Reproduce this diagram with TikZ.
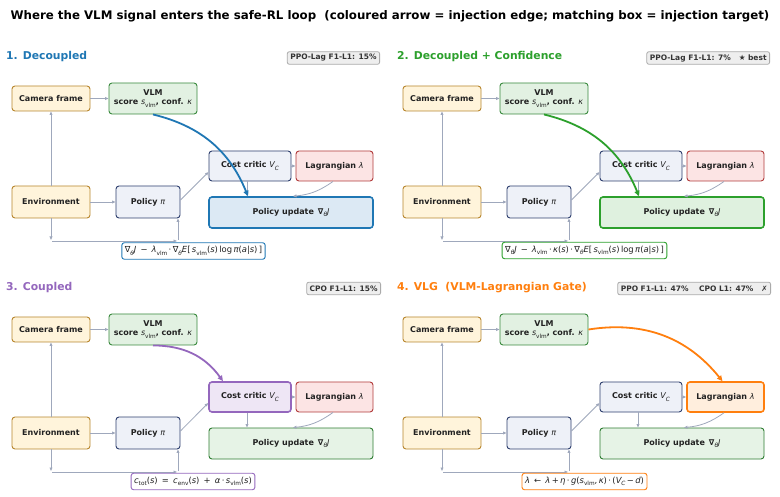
\documentclass[tikz,border=0pt]{standalone}
\usepackage{fontspec}
\setmainfont{DejaVu Sans}
\usetikzlibrary{arrows.meta,calc}
\definecolor{txt}{HTML}{222222}
\definecolor{camF}{HTML}{FFF4DB}
\definecolor{camD}{HTML}{B8862E}
\definecolor{vlmF}{HTML}{E2F1E2}
\definecolor{vlmD}{HTML}{3A8A3E}
\definecolor{polF}{HTML}{EEF1F8}
\definecolor{polD}{HTML}{2E3F6E}
\definecolor{lagF}{HTML}{FCE4E4}
\definecolor{lagD}{HTML}{B23B3B}
\definecolor{updF}{HTML}{E6F3E6}
\definecolor{updD}{HTML}{2E7D32}
\definecolor{connC}{HTML}{9FA8BC}
\definecolor{badgeF}{HTML}{EEEEEE}
\definecolor{badgeD}{HTML}{AAAAAA}
\definecolor{badgeT}{HTML}{333333}
\definecolor{cBlue}{HTML}{1F77B4}
\definecolor{cGreen}{HTML}{2CA02C}
\definecolor{cPurple}{HTML}{9467BD}
\definecolor{cOrange}{HTML}{FF7F0E}
\definecolor{hlBlueF}{HTML}{DCE9F4}
\definecolor{hlGreenF}{HTML}{DFF1DF}
\definecolor{hlPurpleF}{HTML}{EEE6F5}
\definecolor{hlOrangeF}{HTML}{FFEEDD}
\newcommand\mv[1]{{\mdseries\itshape #1}}
\newcommand\lsub[1]{\raisebox{-0.3em}{\fontsize{5.8}{6}\selectfont\mdseries\upshape #1}}
\tikzset{
 base/.style={draw, rounded corners=3pt, line width=0.9pt, align=center, inner sep=0pt, text=txt, font=\fontsize{8}{9.5}\selectfont\bfseries},
 camst/.style={base, fill=camF, draw=camD, minimum width=78pt, minimum height=25pt},
 envst/.style={camst, minimum height=32pt},
 vlmst/.style={base, fill=vlmF, draw=vlmD, minimum width=88pt, minimum height=31pt},
 polst/.style={base, fill=polF, draw=polD, minimum width=64pt, minimum height=32pt},
 ccst/.style={base, fill=polF, draw=polD, minimum width=82pt, minimum height=30pt},
 lagst/.style={base, fill=lagF, draw=lagD, minimum width=77pt, minimum height=30pt},
 updst/.style={base, fill=updF, draw=updD, minimum width=164pt, minimum height=31pt},
 conn/.style={draw=connC, line width=0.8pt, -{Triangle[length=3.5pt,width=2.8pt]}},
 inj/.style={line width=1.8pt, -{Triangle[length=5.5pt,width=5pt]}},
 badge/.style={draw=badgeD, fill=badgeF, rounded corners=2pt, line width=0.8pt, text=badgeT, font=\fontsize{7.5}{9}\selectfont\bfseries, inner xsep=3pt, inner ysep=0pt, minimum height=12.5pt, anchor=east},
 ptitle/.style={anchor=west, font=\fontsize{10.8}{13}\selectfont\bfseries, inner sep=0pt},
 formula/.style={draw, fill=white, rounded corners=2.5pt, line width=0.9pt, text=txt, font=\fontsize{8.4}{9.5}\selectfont, inner xsep=3pt, inner ysep=0pt, minimum height=16.5pt},
}
\newcommand\panel[6]{%
\begin{scope}[shift={(#2,#3)}]
\node[camst] (#1cam) at (51,98.5) {Camera frame};
\node[vlmst] (#1vlm) at (153,98.5) {VLM\\score \mv{s}\lsub{vlm}, conf. \mv{κ}};
\node[envst] (#1env) at (51,202) {Environment};
\node[polst] (#1pol) at (148,202) {Policy \mv{π}};
\node[ccst,#4] (#1cc) at (250,166) {Cost critic \mv{V}\lsub{\mv{C}}};
\node[lagst,#5] (#1lag) at (334.5,166) {Lagrangian \mv{λ}};
\node[updst,#6] (#1upd) at (291,212.5) {Policy update\enspace ∇\lsub{\mv{θ}}\mv{J}};
\coordinate (#1a) at (51,240);
\coordinate (#1b) at (52,241);
\coordinate (#1c) at (177,241);
\coordinate (#1d) at (178,240);
\draw[conn] (#1cam.east) -- (#1vlm.west);
\draw[conn] (#1env.north) -- (#1cam.south);
\draw[conn] (#1env.east) -- (#1pol.west);
\draw[conn] (#1env.south) -- (#1a);
\draw[conn] (#1b) -- (#1c);
\draw[conn] (#1d) -- (#1d |- #1pol.south);
\draw[conn] ([yshift=2pt]#1pol.east) -- ([yshift=-6pt]#1cc.west);
\draw[conn] (#1cc.east) -- (#1lag.west);
\draw[conn] ([xshift=-3pt]#1cc.south) -- ([xshift=-3pt]#1cc.south |- #1upd.north);
\draw[conn] ([xshift=-1.5pt]#1lag.south) to[bend left=15] ([xshift=2pt]#1upd.north);
\end{scope}}
\begin{document}
\begin{tikzpicture}[x=1pt,y=-1pt]
\useasboundingbox (0,0) rectangle (780,497);
\fill[white] (0,0) rectangle (780,497);
\node[font=\fontsize{11.8}{14}\selectfont\bfseries, inner sep=0pt] (title) at (390,16.5) {Where the VLM signal enters the safe-RL loop\ \ (coloured arrow = injection edge; matching box = injection target)};
% panel 1
\node[ptitle, text=cBlue] (t1) at (6,57) {1. Decoupled};
\node[badge] (b1) at (380,58) {PPO-Lag F1-L1: 15\%};
\panel{p1}{0}{0}{}{}{fill=hlBlueF, draw=cBlue, line width=1.6pt}
\node[formula, draw=cBlue] (f1) at (193.5,251) {∇\lsub{\mv{θ}}\mv{J}\ \,−\ \,\mv{λ}\lsub{vlm}\,·\,∇\lsub{\mv{θ}}\mv{E}[\,\mv{s}\lsub{vlm}(\mv{s})\,log\,\mv{π}(\mv{a}|\mv{s})\,]};
\draw[inj, cBlue] (p1vlm.south) to[bend left=27] ([xshift=-43pt]p1upd.north);
% panel 2
\node[ptitle, text=cGreen] (t2) at (397,57) {2. Decoupled + Confidence};
\node[badge] (b2) at (770,58) {PPO-Lag F1-L1: 7\%\ \ \ ★ best};
\panel{p2}{391}{0}{}{}{fill=hlGreenF, draw=cGreen, line width=1.6pt}
\node[formula, draw=cGreen] (f2) at (584.5,250.5) {∇\lsub{\mv{θ}}\mv{J}\ \,−\ \,\mv{λ}\lsub{vlm}\,·\,\mv{κ}(\mv{s})\,·\,∇\lsub{\mv{θ}}\mv{E}[\,\mv{s}\lsub{vlm}(\mv{s})\,log\,\mv{π}(\mv{a}|\mv{s})\,]};
\draw[inj, cGreen] (p2vlm.south) to[bend left=27] ([xshift=-43pt]p2upd.north);
% panel 3
\node[ptitle, text=cPurple] (t3) at (6,287.5) {3. Coupled};
\node[badge] (b3) at (381,288.5) {CPO F1-L1: 15\%};
\panel{p3}{0}{231}{fill=hlPurpleF, draw=cPurple, line width=1.6pt}{}{}
\node[formula, draw=cPurple] (f3) at (193,481.5) {\mv{c}\lsub{tot}(\mv{s})\enspace=\enspace\mv{c}\lsub{env}(\mv{s})\enspace+\enspace\mv{α}\,·\,\mv{s}\lsub{vlm}(\mv{s})};
\draw[inj, cPurple] (p3vlm.south) to[bend left=27] ([xshift=-27pt]p3cc.north);
% panel 4
\node[ptitle, text=cOrange] (t4) at (397,287.5) {4. VLG\ \ (VLM-Lagrangian Gate)};
\node[badge] (b4) at (771,288.5) {PPO F1-L1: 47\%\ \ \ \ CPO L1: 47\%\ \ \ {\mdseries ✗}};
\panel{p4}{391}{231}{}{fill=hlOrangeF, draw=cOrange, line width=1.6pt}{}
\node[formula, draw=cOrange] (f4) at (584.5,481.5) {\mv{λ}\enspace←\enspace\mv{λ}\,+\,\mv{η}\,·\,\mv{g}(\mv{s}\lsub{vlm},\,\mv{κ})\,·\,(\mv{V}\lsub{\mv{C}}\,−\,\mv{d})};
\draw[inj, cOrange] (p4vlm.east) to[bend left=30] ([xshift=-3pt]p4lag.north);
\end{tikzpicture}
\end{document}
